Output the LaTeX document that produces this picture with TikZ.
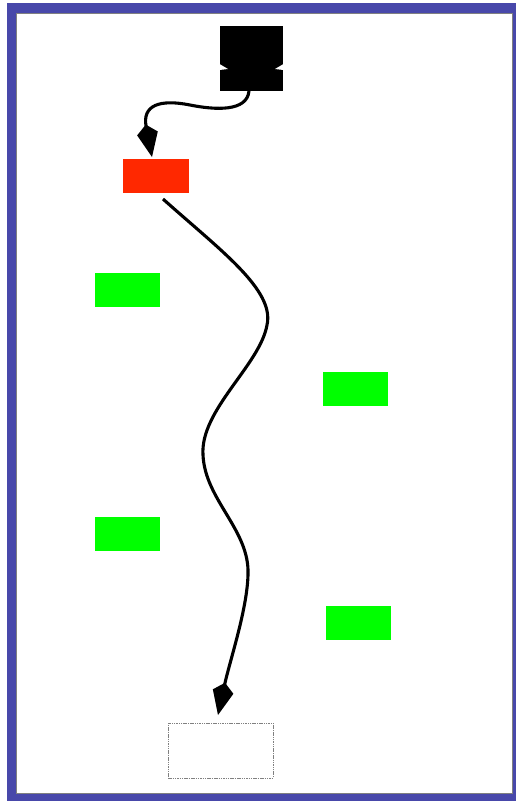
\documentclass[tikz,border=0pt]{standalone}
\usetikzlibrary{arrows.meta}
\definecolor{frameblue}{RGB}{72,72,170}
\definecolor{boxred}{RGB}{255,40,0}
\definecolor{boxgreen}{RGB}{0,255,0}
\tikzset{
  box/.style={minimum width=65pt, minimum height=34pt, inner sep=0pt, outer sep=0pt, draw=none},
  greenbox/.style={box, fill=boxgreen},
  redbox/.style={box, fill=boxred},
  conn/.style={line width=3.1pt, -{Kite[length=33pt,width=21pt,inset=9pt]}},
}
\begin{document}
\begin{tikzpicture}[x=1pt,y=-1pt]
\useasboundingbox (0,0) rectangle (516,801);
\fill[frameblue] (7,3) rectangle (516,801);
\fill[white, draw=gray, line width=1pt] (16,13) rectangle (512,793);
% black box
\node[box, fill=black, minimum width=63pt, minimum height=65pt] (top) at (251.5,58.5) {};
\fill[white] (219.5,64) -- (228,69) -- (219.5,70) -- cycle;
\fill[white] (283.5,64) -- (275,69) -- (283.5,70) -- cycle;
% red box
\node[redbox, minimum width=66pt] (red) at (156,176) {};
% green boxes
\node[greenbox] (g1) at (127.5,289.5) {};
\node[greenbox] (g2) at (355.5,389) {};
\node[greenbox] (g3) at (127.5,533.5) {};
\node[greenbox] (g4) at (358.5,622.5) {};
% dashed box
\node[box, draw=gray, dash pattern=on 1.5pt off 0.8pt, line width=0.9pt, minimum width=105pt, minimum height=55pt] (end) at (220.5,750.5) {};
% connectors
\draw[conn] ([xshift=-2.5pt]top.south) .. controls (247,112) and (215,110) .. (190,105)
  .. controls (160,99) and (142,105) .. ([shift={(-4,-2)}]red.north);
\draw[conn] ([shift={(7,6)}]red.south) .. controls (220,250) and (275,290) .. (267,325)
  .. controls (260,365) and (200,410) .. (203,455)
  .. controls (205,500) and (250,530) .. (248,575)
  .. controls (247,610) and (230,660) .. ([shift={(-2.5,-8)}]end.north);
\end{tikzpicture}
\end{document}
